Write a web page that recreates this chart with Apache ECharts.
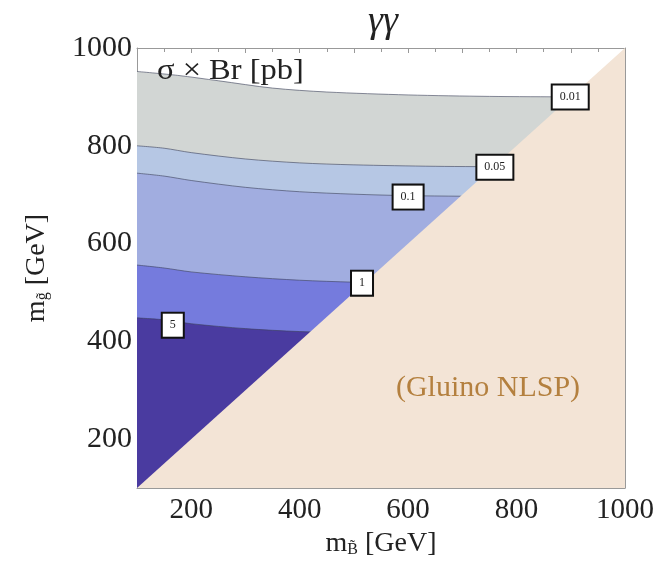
<!DOCTYPE html>
<html>
<head>
<meta charset="utf-8">
<script src="https://cdn.jsdelivr.net/npm/echarts@6/dist/echarts.min.js"></script>
<style>
  html, body { margin: 0; padding: 0; background: #fff; }
  #chart { width: 665px; height: 566px; }
</style>
</head>
<body>
<div id="chart"></div>
<script>
// contour levels (sigma x Br, pb) and their boundaries [m_B, m_g]
const levels = ['0.01', '0.05', '0.1', '1', '5'];
const contour001 = [[100, 952], [175, 944], [250, 933], [350, 918], [450, 910], [600, 904], [750, 901], [900, 900], [1000, 899]];
const contour005 = [[100, 800], [150, 795], [200, 786], [300, 773], [400, 765], [500, 761], [650, 758], [800, 757], [1000, 756]];
const contour01 = [[100, 744], [150, 738], [200, 729], [300, 715], [400, 706], [500, 701], [600, 698], [800, 696], [1000, 695]];
const contour1 = [[100, 556], [150, 550], [200, 542], [300, 532], [400, 525], [500, 521], [600, 519], [1000, 517]];
const contour5 = [[100, 448], [150, 444], [200, 436], [300, 426], [400, 420], [500, 418], [1000, 416]];
const nlspEdge = [[100, 100], [1000, 1000]];
// where the level boxes sit
const labelX = [899, 760, 600, 515, 166];
const labelY = [900, 756, 695, 519, 433];

const bandColors = ['#d2d6d4', '#b6c7e4', '#a1ade0', '#757bdd', '#4a3ba0'];
const contours = [contour001, contour005, contour01, contour1, contour5];
const serif = '"Liberation Serif", "DejaVu Serif", serif';

const chart = echarts.init(document.getElementById('chart'));

const series = contours.map((c, i) => ({
  type: 'line',
  data: c,
  smooth: 0.3,
  symbol: 'none',
  z: 2 + i,
  lineStyle: { color: 'rgba(60,65,90,0.6)', width: 1 },
  areaStyle: { color: bandColors[i], opacity: 1, origin: 'start' }
}));

series.push({
  type: 'line',
  data: nlspEdge,
  symbol: 'none',
  z: 10,
  lineStyle: { width: 0 },
  areaStyle: { color: '#f3e4d6', opacity: 1, origin: 'start' }
});

series.push({
  type: 'scatter',
  data: labelX.map((x, i) => [x, labelY[i], levels[i]]),
  symbolSize: 1,
  z: 20,
  itemStyle: { color: '#fff', opacity: 1 },
  label: {
    show: true,
    position: 'inside',
    formatter: p => p.data[2],
    backgroundColor: '#ffffff',
    borderColor: '#111',
    borderWidth: 2,
    opacity: 1,
    padding: [6, 7, 5, 7],
    fontFamily: serif,
    fontSize: 12,
    color: '#222'
  }
});

const tickFmt = v => (v % 200 === 0 ? String(v) : '');
const nameRich = {
  m: { fontFamily: serif, fontSize: 28, color: '#222' },
  s: { fontFamily: serif, fontSize: 16, color: '#222', verticalAlign: 'bottom' },
  n: { fontFamily: serif, fontSize: 28, color: '#222' }
};
const tickLine = { color: '#999' };

const option = {
  animation: false,
  grid: { left: 137, right: 40, top: 48, bottom: 78 },
  xAxis: [{
    type: 'value', min: 100, max: 1000, interval: 100,
    name: '{m|m}{s|B\u0303}{n| [GeV]}',
    nameLocation: 'middle', nameGap: 38,
    nameTextStyle: { rich: nameRich },
    axisLine: { lineStyle: tickLine },
    axisTick: { inside: true, length: 5, lineStyle: tickLine },
    minorTick: { show: true, splitNumber: 2, length: 4, lineStyle: tickLine },
    splitLine: { show: false },
    axisLabel: { formatter: tickFmt, fontFamily: serif, fontSize: 29, color: '#222', margin: 8 }
  }, {
    type: 'value', min: 100, max: 1000, interval: 100, position: 'top',
    axisLine: { lineStyle: tickLine },
    axisTick: { inside: true, length: 5, lineStyle: tickLine },
    minorTick: { show: true, splitNumber: 2, length: 4, lineStyle: tickLine },
    splitLine: { show: false },
    axisLabel: { show: false }
  }],
  yAxis: [{
    type: 'value', min: 100, max: 1000, interval: 100,
    name: '{m|m}{s|g\u0303}{n| [GeV]}',
    nameLocation: 'middle', nameGap: 86, nameRotate: 90,
    nameTextStyle: { rich: nameRich },
    axisLine: { lineStyle: tickLine },
    axisTick: { inside: true, length: 5, lineStyle: tickLine },
    minorTick: { show: true, splitNumber: 2, length: 4, lineStyle: tickLine },
    splitLine: { show: false },
    axisLabel: { formatter: tickFmt, fontFamily: serif, fontSize: 30, color: '#222', margin: 5 }
  }, {
    type: 'value', min: 100, max: 1000, interval: 100, position: 'right',
    axisLine: { lineStyle: tickLine },
    axisTick: { inside: true, length: 5, lineStyle: tickLine },
    minorTick: { show: true, splitNumber: 2, length: 4, lineStyle: tickLine },
    splitLine: { show: false },
    axisLabel: { show: false }
  }],
  graphic: [
    {
      type: 'text', x: 383, y: 22, z: 100,
      style: { text: '\u03b3\u03b3', font: 'italic 38px ' + serif, fill: '#222', align: 'center', verticalAlign: 'middle' }
    },
    {
      type: 'text', x: 157, y: 71, z: 100, scaleX: 1.12,
      style: { text: '\u03c3 \u00d7 Br [pb]', font: '29px ' + serif, fill: '#222', verticalAlign: 'middle' }
    },
    {
      type: 'text', x: 488, y: 388, z: 100,
      style: { text: '(Gluino NLSP)', font: '30px ' + serif, fill: '#b4803f', align: 'center', verticalAlign: 'middle' }
    }
  ],
  series: series
};

chart.setOption(option);
</script>
</body>
</html>
